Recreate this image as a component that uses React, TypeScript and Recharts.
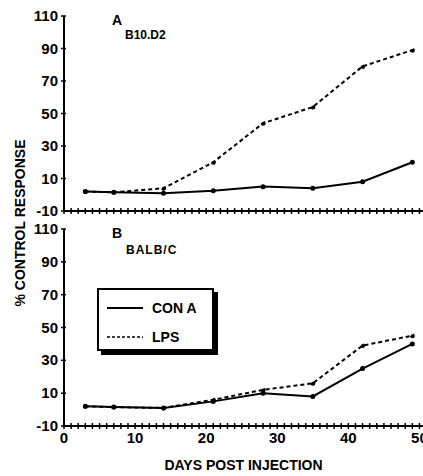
import React from "react";
import { LineChart, Line, XAxis, YAxis, Legend } from "recharts";

// days post injection
const days = [3, 7, 14, 21, 28, 35, 42, 49];
// panel A: B10.D2
const b10ConA = [2, 1.5, 1, 2.5, 5, 4, 8, 20];
const b10Lps = [2, 1.5, 4, 20, 44, 54, 79, 89];
// panel B: BALB/C
const balbConA = [2, 1.5, 1, 5, 10, 8, 25, 40];
const balbLps = [2, 1.5, 1, 6, 12, 16, 39, 45];

const yTicks = [-10, 10, 30, 50, 70, 90, 110];
const xTicks = Array.from({ length: 51 }, (_, i) => i);
const xLabels = [0, 10, 20, 30, 40, 50];

const FONT = "'Liberation Sans', Arial, Helvetica, sans-serif";

const dataA = days.map((d, i) => ({ day: d, conA: b10ConA[i], lps: b10Lps[i] }));
const dataB = days.map((d, i) => ({ day: d, conA: balbConA[i], lps: balbLps[i] }));

const XTick = (showLabels: boolean) => (props: any) => {
  const { x, y, payload } = props;
  return (
    <g>
      <line x1={x} x2={x} y1={y - 3} y2={y + 3} stroke="#000" strokeWidth={1.5} />
      {showLabels && xLabels.includes(payload.value) && (
        <text x={x} y={y + 17} textAnchor="middle" fontSize={15} fontWeight="bold" fontFamily={FONT} fill="#000">
          {payload.value}
        </text>
      )}
    </g>
  );
};

const YTick = (props: any) => {
  const { x, y, payload } = props;
  return (
    <g>
      <line x1={x - 3} x2={x + 2} y1={y} y2={y} stroke="#000" strokeWidth={1.5} />
      <text x={x - 6} y={y + 5} textAnchor="end" fontSize={15} fontWeight="bold" fontFamily={FONT} fill="#000">
        {payload.value}
      </text>
    </g>
  );
};

const LegendBox = () => (
  <div
    style={{
      border: "2px solid #000",
      boxShadow: "4px 4px 0 #000",
      background: "#fff",
      width: 117,
      height: 63,
      fontFamily: FONT,
      fontWeight: "bold",
      fontSize: 14,
      boxSizing: "border-box",
    }}
  >
    <div style={{ display: "flex", alignItems: "center", marginTop: 10, marginLeft: 8 }}>
      <svg width={36} height={4}>
        <line x1={0} x2={36} y1={2} y2={2} stroke="#000" strokeWidth={2} />
      </svg>
      <span style={{ marginLeft: 9 }}>CON A</span>
    </div>
    <div style={{ display: "flex", alignItems: "center", marginTop: 13, marginLeft: 8 }}>
      <svg width={36} height={4}>
        <line x1={0} x2={36} y1={2} y2={2} stroke="#000" strokeWidth={1.5} strokeDasharray="3 2" />
      </svg>
      <span style={{ marginLeft: 9 }}>LPS</span>
    </div>
  </div>
);

const textStyle: React.CSSProperties = {
  position: "absolute",
  fontFamily: FONT,
  fontWeight: "bold",
  color: "#000",
  lineHeight: 1,
  whiteSpace: "nowrap",
};

const dot = { r: 1.5, fill: "#000", stroke: "#000" };

export default function App() {
  return (
    <div style={{ position: "absolute", left: 0, top: 0, width: 423, height: 476, background: "#fff" }}>
      <LineChart width={423} height={220} data={dataA} margin={{ top: 16, right: 0, bottom: 0, left: 0 }}>
        <XAxis
          dataKey="day"
          type="number"
          domain={[0, 50.5]}
          ticks={xTicks}
          interval={0}
          height={9}
          tickSize={0}
          tickMargin={0}
          tick={XTick(false)}
          axisLine={{ stroke: "#000", strokeWidth: 2 }}
          tickLine={false}
        />
        <YAxis
          type="number"
          domain={[-10, 110]}
          ticks={yTicks}
          interval={0}
          width={64}
          tickSize={0}
          tickMargin={0}
          tick={YTick}
          axisLine={{ stroke: "#000", strokeWidth: 2 }}
          tickLine={false}
        />
        <Line dataKey="conA" stroke="#000" strokeWidth={2} dot={dot} isAnimationActive={false} />
        <Line dataKey="lps" stroke="#000" strokeWidth={2} strokeDasharray="4 3" dot={dot} isAnimationActive={false} />
      </LineChart>
      <LineChart width={423} height={256} data={dataB} margin={{ top: 9, right: 0, bottom: 0, left: 0 }}>
        <XAxis
          dataKey="day"
          type="number"
          domain={[0, 50.5]}
          ticks={xTicks}
          interval={0}
          height={50}
          tickSize={0}
          tickMargin={0}
          tick={XTick(true)}
          axisLine={{ stroke: "#000", strokeWidth: 2 }}
          tickLine={false}
          label={{
            value: "DAYS POST INJECTION",
            position: "insideBottom",
            offset: 6,
            fontSize: 14,
            fontWeight: "bold",
            fontFamily: FONT,
            fill: "#000",
          }}
        />
        <YAxis
          type="number"
          domain={[-10, 110]}
          ticks={yTicks}
          interval={0}
          width={64}
          tickSize={0}
          tickMargin={0}
          tick={YTick}
          axisLine={{ stroke: "#000", strokeWidth: 2 }}
          tickLine={false}
        />
        <Legend
          layout="vertical"
          align="center"
          verticalAlign="middle"
          content={<LegendBox />}
          wrapperStyle={{ left: 97, top: 68, width: 121, height: 67 }}
        />
        <Line dataKey="conA" name="CON A" stroke="#000" strokeWidth={2} dot={dot} isAnimationActive={false} />
        <Line dataKey="lps" name="LPS" stroke="#000" strokeWidth={2} strokeDasharray="4 3" dot={dot} isAnimationActive={false} />
      </LineChart>
      <div style={{ ...textStyle, left: 112, top: 13, fontSize: 14 }}>A</div>
      <div style={{ ...textStyle, left: 125, top: 29, fontSize: 12 }}>B10.D2</div>
      <div style={{ ...textStyle, left: 112, top: 226, fontSize: 14 }}>B</div>
      <div style={{ ...textStyle, left: 126, top: 244, fontSize: 12, letterSpacing: 1 }}>BALB/C</div>
      <div
        style={{
          ...textStyle,
          left: 20,
          top: 223,
          fontSize: 14,
          transform: "translate(-50%, -50%) rotate(-90deg)",
        }}
      >
        % CONTROL RESPONSE
      </div>
    </div>
  );
}
